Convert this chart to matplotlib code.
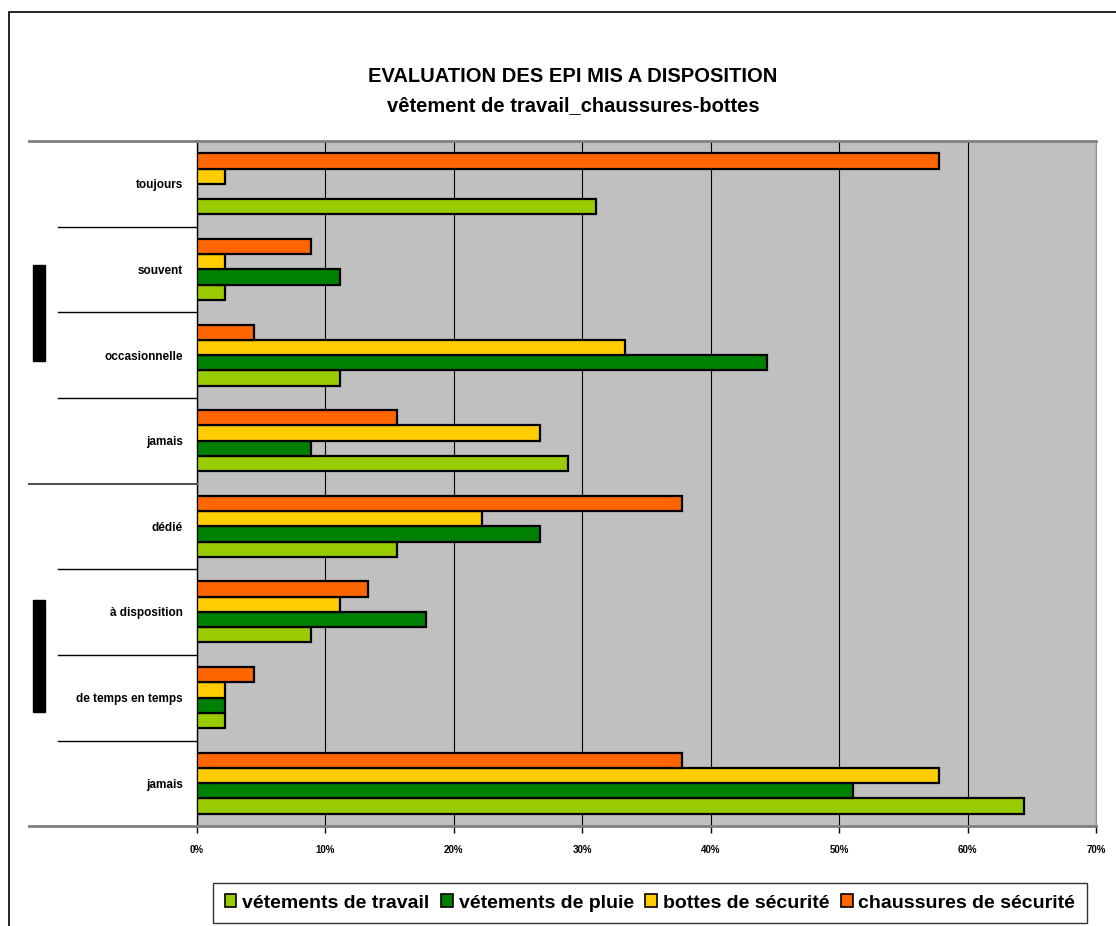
import matplotlib
matplotlib.use("Agg")
import matplotlib.pyplot as plt
from matplotlib.patches import Rectangle
from matplotlib.lines import Line2D
import numpy as np

plt.rcParams['font.family'] = ['Liberation Sans', 'DejaVu Sans']

categories = ["toujours", "souvent", "occasionnelle", "jamais",
              "dédié", "à disposition", "de temps en temps", "jamais"]
series_names = ["vétements de travail", "vétements de pluie",
                "bottes de sécurité", "chaussures de sécurité"]
travail = [31.1, 2.2, 11.1, 28.9, 15.6, 8.9, 2.2, 64.4]
pluie = [0.0, 11.1, 44.4, 8.9, 26.7, 17.8, 2.2, 51.1]
bottes = [2.2, 2.2, 33.3, 26.7, 22.2, 11.1, 2.2, 57.8]
chaussures = [57.8, 8.9, 4.4, 15.6, 37.8, 13.3, 4.4, 37.8]
xticks = [0, 10, 20, 30, 40, 50, 60, 70]
xtick_labels = ["0%", "10%", "20%", "30%", "40%", "50%", "60%", "70%"]
title1 = "EVALUATION DES EPI MIS A DISPOSITION"
title2 = "vêtement de travail_chaussures-bottes"

colors = ["#99CC00", "#008000", "#FFCC00", "#FF6600"]
W, H = 1116, 926
fig = plt.figure(figsize=(W / 100, H / 100), dpi=100)

def fx(px):
    return px / W

def fy(py):
    return 1 - py / H

# outer chart frame
fig.add_artist(Rectangle((fx(9), fy(1000)), fx(1200), fy(12) - fy(1000),
                         transform=fig.transFigure, fill=False,
                         edgecolor="black", lw=1.2))

ax = fig.add_axes([fx(197), fy(826), fx(1096) - fx(197), fy(141) - fy(826)])
ax.set_facecolor("#C0C0C0")

h = 0.178
y = np.arange(len(categories))
offsets = [1.5 * h, 0.5 * h, -0.5 * h, -1.5 * h]
for vals, off, c, name in zip([travail, pluie, bottes, chaussures], offsets, colors, series_names):
    v = np.array(vals)
    mask = v > 0
    ax.barh(y[mask] + off, v[mask], height=h, color=c, edgecolor="black",
            linewidth=1.6, label=name, zorder=3)

ax.set_xlim(0, 70)
ax.set_ylim(len(categories) - 0.5, -0.5)
ax.set_xticks(xticks)
ax.set_xticklabels(xtick_labels, fontsize=7, fontweight="bold")
ax.set_yticks(y)
ax.set_yticklabels(categories, fontsize=8.5, fontweight="bold")
ax.tick_params(axis="y", length=0, pad=10)
ax.tick_params(axis="x", length=5, width=1, pad=9, direction="out")
ax.xaxis.grid(True, color="black", lw=0.8, zorder=1)
ax.set_axisbelow(True)
for s in ["top", "bottom"]:
    ax.spines[s].set_color("#808080")
    ax.spines[s].set_linewidth(2)
ax.spines["left"].set_color("black")
ax.spines["left"].set_linewidth(1)
ax.spines["right"].set_color("#909090")
ax.spines["right"].set_linewidth(0.8)

# category separator lines on the left
bounds = [141, 227, 312, 398, 484, 569, 655, 741, 826]
starts = [29, 58, 58, 58, 29, 58, 58, 58, 29]
for i, (b, s) in enumerate(zip(bounds, starts)):
    if i in (0, len(bounds) - 1):
        col, lw = "#808080", 2
    elif s == 29:
        col, lw = "#555555", 1.5
    else:
        col, lw = "black", 1
    fig.add_artist(Line2D([fx(s), fx(197)], [fy(b), fy(b)], transform=fig.transFigure,
                          color=col, lw=lw))

# black group markers
for (y0, y1) in [(265, 361), (600, 712)]:
    fig.add_artist(Rectangle((fx(33), fy(y1)), fx(45) - fx(33), fy(y0) - fy(y1),
                             transform=fig.transFigure, color="black"))

fig.text(fx(573), fy(76), title1, ha="center", va="center", fontsize=14.5, fontweight="bold")
fig.text(fx(573), fy(106), title2, ha="center", va="center", fontsize=14.5, fontweight="bold")

handles = [Rectangle((0, 0), 1, 1, facecolor=c, edgecolor="black", lw=1.2) for c in colors]
leg = fig.legend(handles, series_names, loc="center", ncol=4,
                 bbox_to_anchor=(fx(650), fy(903)), frameon=True, fancybox=False,
                 prop={"size": 14, "weight": "bold"}, handlelength=0.6, handleheight=0.6,
                 handletextpad=0.3, columnspacing=0.6, borderpad=0.6)
leg.get_frame().set_edgecolor("black")
leg.get_frame().set_linewidth(1)

fig.savefig("out.png", dpi=100)
